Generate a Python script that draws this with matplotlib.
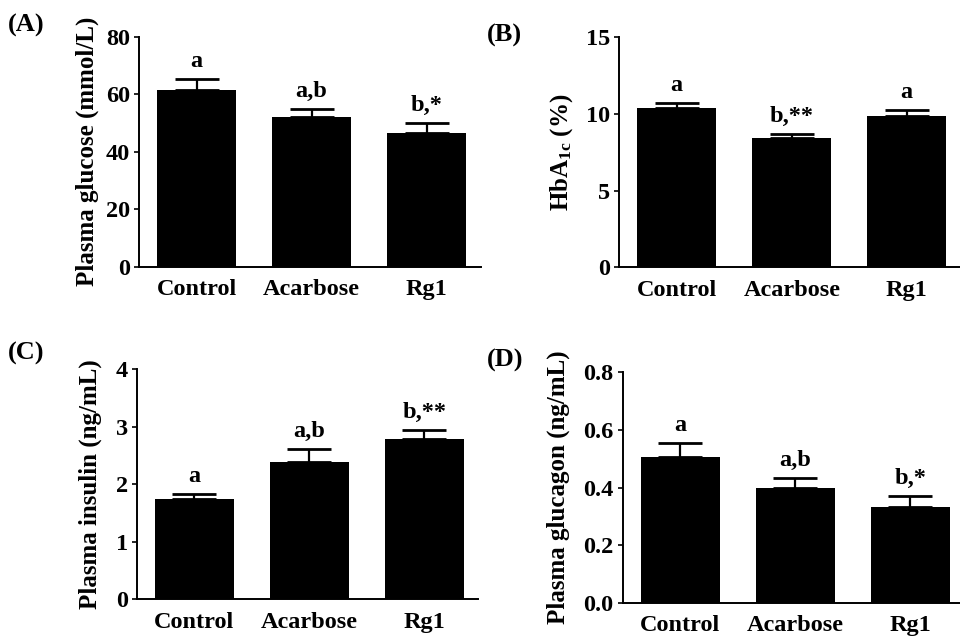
import matplotlib
matplotlib.use("Agg")
import matplotlib.pyplot as plt
from matplotlib.ticker import FormatStrFormatter

plt.rcParams['font.family'] = ['Liberation Serif', 'DejaVu Serif']
plt.rcParams['font.weight'] = 'bold'
plt.rcParams['mathtext.fontset'] = 'custom'
plt.rcParams['mathtext.rm'] = 'Liberation Serif:bold'
plt.rcParams['mathtext.it'] = 'Liberation Serif:bold'
plt.rcParams['mathtext.bf'] = 'Liberation Serif:bold'

groups = ["Control", "Acarbose", "Rg1"]

glucose = [61.4, 52.0, 46.6]
glucose_err = [3.8, 2.8, 3.3]
glucose_sig = ["a", "a,b", "b,*"]

hba1c = [10.37, 8.41, 9.85]
hba1c_err = [0.33, 0.26, 0.39]
hba1c_sig = ["a", "b,**", "a"]

insulin = [1.75, 2.38, 2.78]
insulin_err = [0.09, 0.23, 0.16]
insulin_sig = ["a", "a,b", "b,**"]

glucagon = [0.507, 0.399, 0.331]
glucagon_err = [0.046, 0.035, 0.041]
glucagon_sig = ["a", "a,b", "b,*"]

panels = [
    dict(tag="(A)", vals=glucose, err=glucose_err, sig=glucose_sig,
         ylabel="Plasma glucose (mmol/L)", yticks=[0, 20, 40, 60, 80], fmt="%d",
         box=(139, 36.7, 266.7), tagpos=(8, 25), ylab_x=87),
    dict(tag="(B)", vals=hba1c, err=hba1c_err, sig=hba1c_sig,
         ylabel=r"HbA$_{\mathrm{1c}}$ (%)", yticks=[0, 5, 10, 15], fmt="%d",
         box=(619.3, 37.3, 267.3), tagpos=(487, 35), ylab_x=562),
    dict(tag="(C)", vals=insulin, err=insulin_err, sig=insulin_sig,
         ylabel="Plasma insulin (ng/mL)", yticks=[0, 1, 2, 3, 4], fmt="%d",
         box=(136.7, 369.3, 599.3), tagpos=(8, 353), ylab_x=90),
    dict(tag="(D)", vals=glucagon, err=glucagon_err, sig=glucagon_sig,
         ylabel="Plasma glucagon (ng/mL)", yticks=[0, 0.2, 0.4, 0.6, 0.8], fmt="%.1f",
         box=(622.7, 372.3, 602.7), tagpos=(487, 360), ylab_x=558),
]

W, H = 960, 638
fig = plt.figure(figsize=(9.6, 6.38), dpi=100)
fs = 17.5
xmin, xmax = -0.5, 2.47
unit = 115.0

for p in panels:
    left, top, bottom = p["box"]
    width = (xmax - xmin) * unit
    ax = fig.add_axes([left / W, 1 - bottom / H, width / W, (bottom - top) / H])
    x = list(range(len(groups)))
    ax.bar(x, p["vals"], width=0.69, color="black", linewidth=0, zorder=2)
    ax.errorbar(x, p["vals"], yerr=[[0] * 3, p["err"]], fmt="none", ecolor="black",
                elinewidth=1.6, capsize=16, capthick=2.0, zorder=3)
    for xi, v, e, s in zip(x, p["vals"], p["err"], p["sig"]):
        ax.annotate(s, (xi, v + e), xytext=(0, 5), textcoords="offset points",
                    ha="center", va="bottom", fontsize=fs, fontweight="bold")
    ax.set_xlim(xmin, xmax)
    ax.set_ylim(p["yticks"][0], p["yticks"][-1])
    ax.set_yticks(p["yticks"])
    ax.yaxis.set_major_formatter(FormatStrFormatter(p["fmt"]))
    ax.set_xticks(x)
    ax.set_xticklabels(groups, fontsize=fs, fontweight="bold")
    ax.tick_params(axis="x", length=0, pad=9)
    ax.tick_params(axis="y", direction="out", length=3.5, width=1.2, pad=3, labelsize=fs)
    for lab in ax.get_yticklabels():
        lab.set_fontweight("bold")
    for sp in ["top", "right"]:
        ax.spines[sp].set_visible(False)
    for sp in ["left", "bottom"]:
        ax.spines[sp].set_linewidth(1.4)
    ycen = (top + bottom) / 2
    fig.text(p["ylab_x"] / W, 1 - ycen / H, p["ylabel"], rotation=90, ha="center",
             va="center", fontsize=fs + 0.5, fontweight="bold")
    tx, ty = p["tagpos"]
    fig.text(tx / W, 1 - ty / H, p["tag"], ha="left", va="center", fontsize=19,
             fontweight="bold")

fig.savefig("out.png", dpi=100, facecolor="white")
